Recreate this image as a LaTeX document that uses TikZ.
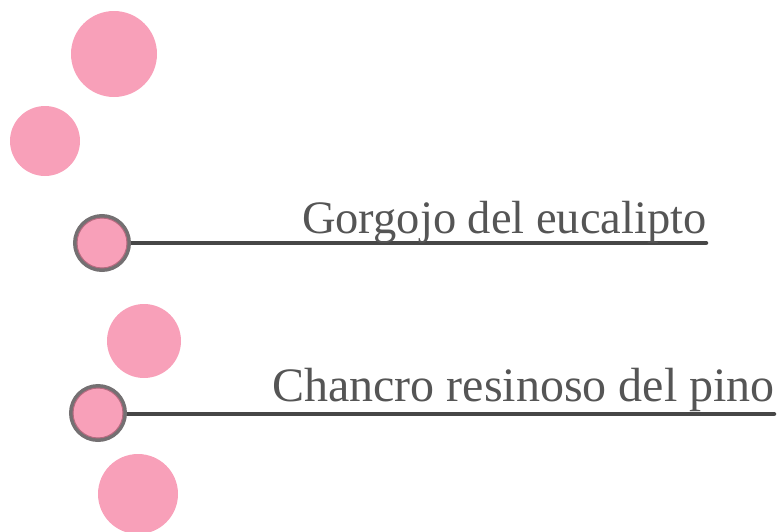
\documentclass[tikz,border=0pt]{standalone}
\usepackage{fontspec}
\setmainfont{Liberation Serif}
\definecolor{pinkc}{HTML}{F8A0B9}
\definecolor{ringc}{HTML}{747072}
\definecolor{innerc}{HTML}{B86A80}
\definecolor{linec}{HTML}{474747}
\definecolor{textc}{HTML}{555555}
\begin{document}
\begin{tikzpicture}[x=1pt,y=-1pt,
  dot/.style={circle,fill=pinkc,inner sep=0pt,draw=none},
  marker/.style={circle,fill=pinkc,draw=ringc,line width=4pt,minimum size=54pt,inner sep=0pt},
  markin/.style={circle,draw=innerc,line width=1pt,minimum size=50pt,inner sep=0pt},
  bar/.style={draw=linec,line width=4.5pt,line cap=round},
  lbl/.style={text=textc,inner sep=0pt,anchor=base east}]
\useasboundingbox (0,0) rectangle (779,531);
\node[dot,minimum size=86pt] (c1) at (114,54) {};
\node[dot,minimum size=70pt] (c2) at (45,141) {};
\node[dot,minimum size=74pt] (c3) at (144,341) {};
\node[dot,minimum size=80pt] (c4) at (138,494) {};
\coordinate (e1) at (706,243);
\coordinate (e2) at (774,414);
\draw[bar] (102,243) -- (e1);
\draw[bar] (98,414) -- (e2);
\node[marker] (m1) at (102,243) {};
\node[markin] (i1) at (m1) {};
\node[marker] (m2) at (98,413) {};
\node[markin] (i2) at (m2) {};
\node[lbl,font=\fontsize{46.5}{50}\selectfont] (t1) at (707,233) {Gorgojo del eucalipto};
\node[lbl,font=\fontsize{48}{52}\selectfont] (t2) at (775,401) {Chancro resinoso del pino};
\end{tikzpicture}
\end{document}
